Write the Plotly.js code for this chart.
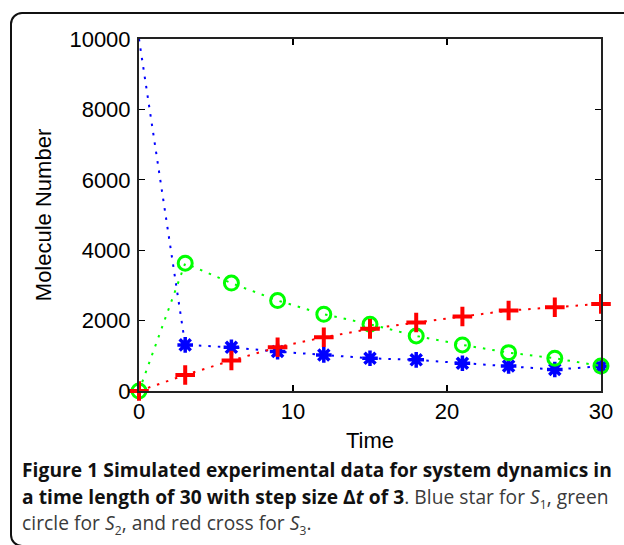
<!DOCTYPE html>
<html>
<head>
<meta charset="utf-8">
<script src="https://cdn.plot.ly/plotly-3.0.1.min.js"></script>
<style>
  html, body { margin: 0; padding: 0; background: #fff; }
  #wrap { position: relative; width: 624px; height: 545px; overflow: hidden; background: #fff; }
  #frame { position: absolute; left: 10px; top: 12px; width: 700px; height: 531px;
           border: 2px solid #111; border-radius: 12px; }
  #plot { position: absolute; left: 0; top: 0; width: 624px; height: 545px; }
  #caption { position: absolute; left: 22px; top: 457px; width: 610px; white-space: nowrap;
             font-family: "Open Sans", sans-serif; font-size: 19.2px; line-height: 26.5px;
             color: #3a3a3a; letter-spacing: 0.05px; }
  #caption b { color: #111; }
  #caption .sb { font-size: 12px; position: relative; top: 5px; line-height: 0; }
</style>
</head>
<body>
<div id="wrap">
  <div id="frame"></div>
  <div id="plot"></div>
  <div id="caption"><b>Figure 1 Simulated experimental data for system dynamics in</b><br><b>a time length of 30 with step size Δ<i>t</i> of 3</b>. Blue star for <i>S</i><span class="sb">1</span>, green<br>circle for <i>S</i><span class="sb">2</span>, and red cross for <i>S</i><span class="sb">3</span>.</div>
</div>
<script>
const time = [0, 3, 6, 9, 12, 15, 18, 21, 24, 27, 30];
const s1 = [10000, 1310, 1240, 1120, 1025, 930, 885, 790, 710, 610, 700];
const s2 = [0, 3630, 3065, 2570, 2180, 1895, 1565, 1310, 1090, 930, 710];
const s3 = [0, 455, 865, 1245, 1525, 1765, 1945, 2115, 2285, 2380, 2475];
const xTicks = [0, 10, 20, 30];
const yTicks = [0, 2000, 4000, 6000, 8000, 10000];

const dotted = '2.5px,7px';
const traces = [
  {x: time, y: s1, mode: 'lines', line: {color: '#0000ff', width: 2, dash: dotted}, cliponaxis: false},
  {x: time.slice(1), y: s1.slice(1), mode: 'markers', cliponaxis: false,
   marker: {symbol: 'asterisk-open', size: 13, color: '#0000ff', line: {color: '#0000ff', width: 3.5}}},
  {x: time, y: s2, mode: 'lines+markers', cliponaxis: false,
   line: {color: '#00ff00', width: 2, dash: dotted},
   marker: {symbol: 'circle-open', size: 14, color: '#00ff00', line: {color: '#00ff00', width: 3}}},
  {x: time, y: s3, mode: 'lines+markers', cliponaxis: false,
   line: {color: '#ff0000', width: 2, dash: dotted},
   marker: {symbol: 'cross-thin-open', size: 14, color: '#ff0000', line: {color: '#ff0000', width: 4}}}
];

const axisFont = {family: '"Liberation Sans", Arial, sans-serif', size: 22, color: '#000'};
const layout = {
  width: 624, height: 545,
  margin: {l: 139, r: 23, t: 39, b: 154},
  paper_bgcolor: 'rgba(0,0,0,0)', plot_bgcolor: 'rgba(0,0,0,0)',
  showlegend: false,
  xaxis: {
    range: [0, 30], tickvals: xTicks, ticktext: xTicks.map(String),
    ticks: 'inside', ticklen: 6, tickwidth: 1.3, tickcolor: '#000',
    showline: true, linecolor: '#222', linewidth: 2, mirror: 'ticks',
    showgrid: false, zeroline: false, tickfont: axisFont,
    title: {text: 'Time', font: axisFont, standoff: 9}
  },
  yaxis: {
    range: [0, 10000], tickvals: yTicks, ticktext: yTicks.map(String),
    ticks: 'inside', ticklen: 6, tickwidth: 1.3, tickcolor: '#000',
    showline: true, linecolor: '#222', linewidth: 2, mirror: 'ticks',
    showgrid: false, zeroline: false, tickfont: axisFont, ticklabelstandoff: 2,
    title: {text: 'Molecule Number', font: axisFont, standoff: 12}
  }
};
Plotly.newPlot('plot', traces, layout, {displayModeBar: false, staticPlot: true});
</script>
</body>
</html>
